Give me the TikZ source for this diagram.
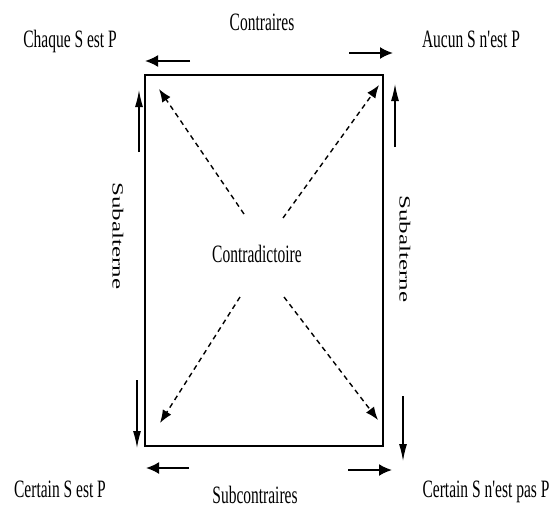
\documentclass[tikz,border=0pt]{standalone}
\usepackage{fontspec}
\setmainfont{Liberation Serif}
\usetikzlibrary{arrows.meta}
\newcommand{\hsq}[1]{\scalebox{0.62}[1]{#1}}
\newcommand{\vsq}[1]{\scalebox{1}[0.62]{#1}}
\begin{document}
\begin{tikzpicture}[x=1pt,y=-1pt,
  lbl/.style={font=\fontsize{25}{28}\selectfont, inner sep=0pt, anchor=base},
  rlbl/.style={font=\fontsize{25}{28}\selectfont, inner sep=0pt, rotate=-90},
  solidarrow/.style={line width=2pt,-{Latex[length=13pt,width=12pt]}},
  thinarrow/.style={line width=1.2pt,-{Latex[length=17pt,width=8pt]}},
  dasharrow/.style={line width=1.4pt,dash pattern=on 5pt off 4pt,-{Latex[length=13pt,width=10pt]}},
  box/.style={line width=2pt}]
\useasboundingbox (0,0) rectangle (553,508);
% rectangle corners
\coordinate (TL) at (145,75);
\coordinate (BR) at (383,446);
\draw[box] (TL) rectangle (BR);
% labels
\node[lbl] (contraires) at (262,31) {\hsq{Contraires}};
\node[lbl] (chaque) at (70,48) {\hsq{Chaque S est P}};
\node[lbl] (aucun) at (471,48) {\hsq{Aucun S n\textquotesingle est P}};
\node[lbl] (certain) at (60,497) {\hsq{Certain S est P}};
\node[lbl] (subc) at (255,503) {\hsq{Subcontraires}};
\node[lbl] (certainpas) at (486,497) {\hsq{Certain S n\textquotesingle est pas P}};
\node[lbl] (contra) at (257,262) {\hsq{Contradictoire}};
\node[rlbl] (subL) at (118,236) {\vsq{Subalterne}};
\node[rlbl] (subR) at (405,249) {\vsq{Subalterne}};
% horizontal arrows
\coordinate (a1s) at (190,61); \coordinate (a1e) at (145,61);
\coordinate (a2s) at (349,53); \coordinate (a2e) at (393,53);
\coordinate (a3s) at (189,468); \coordinate (a3e) at (146,468);
\coordinate (a4s) at (348,470); \coordinate (a4e) at (392,470);
\draw[solidarrow] (a1s) -- (a1e);
\draw[solidarrow] (a2s) -- (a2e);
\draw[solidarrow] (a3s) -- (a3e);
\draw[solidarrow] (a4s) -- (a4e);
% vertical arrows
\coordinate (v1s) at (139,152); \coordinate (v1e) at (139,90);
\coordinate (v2s) at (137,380); \coordinate (v2e) at (137,448);
\coordinate (v3s) at (395,147); \coordinate (v3e) at (395,84);
\coordinate (v4s) at (403,396); \coordinate (v4e) at (403,461);
\draw[thinarrow] (v1s) -- (v1e);
\draw[thinarrow] (v2s) -- (v2e);
\draw[thinarrow] (v3s) -- (v3e);
\draw[thinarrow] (v4s) -- (v4e);
% dashed diagonals
\coordinate (d1s) at (244,214); \coordinate (d1e) at (159,89);
\coordinate (d2s) at (283,218); \coordinate (d2e) at (379,85);
\coordinate (d3s) at (240,297); \coordinate (d3e) at (160,423);
\coordinate (d4s) at (284,297); \coordinate (d4e) at (378,420);
\draw[dasharrow] (d1s) -- (d1e);
\draw[dasharrow] (d2s) -- (d2e);
\draw[dasharrow] (d3s) -- (d3e);
\draw[dasharrow] (d4s) -- (d4e);
\end{tikzpicture}
\end{document}
